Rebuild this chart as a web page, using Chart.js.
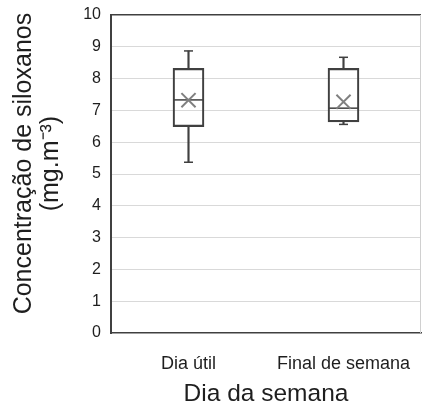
<!DOCTYPE html>
<html>
<head>
<meta charset="utf-8">
<script src="https://cdn.jsdelivr.net/npm/chart.js@4.4.1/dist/chart.umd.min.js"></script>
<style>
html,body{margin:0;padding:0;background:#fff;}
#wrap{width:423px;height:405px;position:relative;}
</style>
</head>
<body>
<div id="wrap"><canvas id="c" width="423" height="405"></canvas></div>
<script>
const categories = ['Dia útil', 'Final de semana'];
const minVals = [5.37, 6.56];
const q1Vals = [6.49, 6.64];
const medianVals = [7.33, 7.07];
const q3Vals = [8.32, 8.32];
const maxVals = [8.87, 8.67];
const meanVals = [7.32, 7.27];
const yTickValues = [0, 1, 2, 3, 4, 5, 6, 7, 8, 9, 10];
const xTitle = 'Dia da semana';
const yTitle = ['   Concentração de siloxanos', '   (mg.m⁻³)'];

const dark = '#404040';
const font = 'Liberation Sans, Arial, sans-serif';

const framePlugin = {
  id: 'frame',
  afterDraw(chart) {
    const a = chart.chartArea, ctx = chart.ctx;
    ctx.save();
    ctx.strokeStyle = '#d0d0d0';
    ctx.lineWidth = 1;
    ctx.beginPath();
    ctx.moveTo(a.right - 0.5, a.top);
    ctx.lineTo(a.right - 0.5, a.bottom);
    ctx.stroke();
    ctx.restore();
  }
};

new Chart(document.getElementById('c'), {
  type: 'bar',
  data: {
    labels: categories,
    datasets: [
      {
        type: 'line', label: 'mean', data: meanVals, showLine: false,
        pointStyle: 'crossRot', pointRadius: 10, pointBorderColor: '#808080',
        pointBorderWidth: 2, pointBackgroundColor: 'rgba(0,0,0,0)'
      },
      {
        type: 'line', label: 'median', data: medianVals, showLine: false,
        pointStyle: 'line', pointRadius: 15.5, pointBorderColor: dark, pointBorderWidth: 1.5
      },
      {
        type: 'line', label: 'maxcap', data: maxVals, showLine: false,
        pointStyle: 'line', pointRadius: 4.5, pointBorderColor: dark, pointBorderWidth: 1.5
      },
      {
        type: 'line', label: 'mincap', data: minVals, showLine: false,
        pointStyle: 'line', pointRadius: 4.5, pointBorderColor: dark, pointBorderWidth: 1.5
      },
      {
        label: 'box', data: categories.map((c, i) => [q1Vals[i], q3Vals[i]]),
        backgroundColor: 'rgba(255,255,255,0)', borderColor: dark, borderWidth: 1.5,
        borderSkipped: false, barThickness: 31, grouped: false
      },
      {
        label: 'whiskerHigh', data: categories.map((c, i) => [q3Vals[i], maxVals[i]]),
        backgroundColor: dark, borderWidth: 0, barThickness: 1.5, grouped: false
      },
      {
        label: 'whiskerLow', data: categories.map((c, i) => [minVals[i], q1Vals[i]]),
        backgroundColor: dark, borderWidth: 0, barThickness: 1.5, grouped: false
      }
    ]
  },
  options: {
    responsive: false,
    animation: false,
    layout: { autoPadding: false, padding: { left: 0, right: 2, top: 15, bottom: 0 } },
    plugins: { legend: { display: false }, tooltip: { enabled: false } },
    scales: {
      x: {
        grid: { display: false },
        border: { color: dark, width: 1.5 },
        ticks: { color: '#1e1e1e', font: { family: font, size: 18 }, padding: 12 },
        title: { display: true, text: xTitle, color: '#1e1e1e',
                 font: { family: font, size: 24.5, lineHeight: 0.9 }, padding: { top: 6, bottom: 0 } },
        afterFit(scale) { scale.height = 72; scale.paddingLeft = 0; scale.paddingRight = 0; }
      },
      y: {
        min: 0, max: 10,
        afterBuildTicks(scale) { scale.ticks = yTickValues.map(v => ({ value: v })); },
        grid: {
          drawTicks: false,
          color: (c) => c.tick && c.tick.value === 10 ? dark : (c.tick && c.tick.value === 0 ? 'rgba(0,0,0,0)' : '#d9d9d9'),
          lineWidth: (c) => c.tick && c.tick.value === 10 ? 1.5 : 1
        },
        border: { color: dark, width: 2 },
        ticks: { color: '#1e1e1e', font: { family: font, size: 16 }, padding: 10 },
        title: { display: true, text: yTitle, color: '#1e1e1e',
                 font: { family: font, size: 25, lineHeight: 1.1 }, padding: { top: 10, bottom: 4 } },
        afterFit(scale) { scale.width = 111; scale.paddingTop = 0; scale.paddingBottom = 0; }
      }
    }
  },
  plugins: [framePlugin]
});
</script>
</body>
</html>
